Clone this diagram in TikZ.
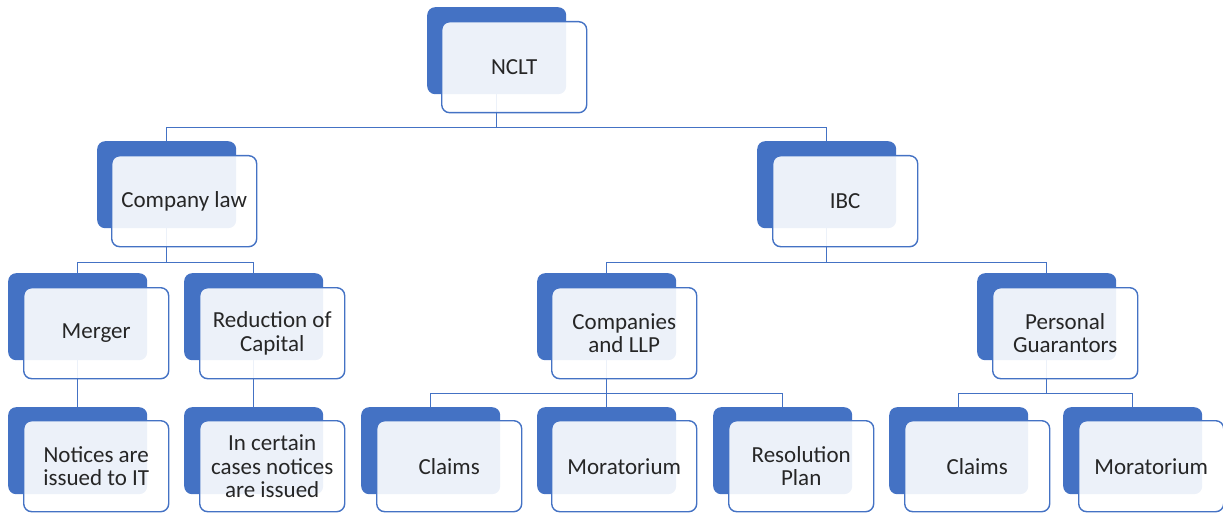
\documentclass[tikz,border=0pt]{standalone}
\usepackage{fontspec}
\setmainfont{Carlito}
\usetikzlibrary{positioning}
\definecolor{acc}{HTML}{4472C4}
\definecolor{ink}{HTML}{262626}

\begin{document}
\begin{tikzpicture}[x=1pt,y=-1pt,
	back/.style={fill=acc,rounded corners=8pt,minimum width=139pt,minimum height=87pt,anchor=north west,inner sep=0pt},
	front/.style={draw=acc,line width=1.4pt,fill=white,fill opacity=.9,text opacity=1,rounded corners=8pt,minimum width=145pt,minimum height=91pt,inner sep=0pt,align=center,text=ink,font=\fontsize{23}{23.5}\selectfont},
	link/.style={draw=acc,line width=1.4pt}]
	\useasboundingbox (0,0) rectangle (1223,513);
	% back boxes
	\node[back] (nclt) at (427,7) {};
	\node[back] (comp) at (97,141) {};
	\node[back] (ibc) at (757,141) {};
	\node[back] (merger) at (8,273) {};
	\node[back] (redcap) at (184,273) {};
	\node[back] (llp) at (537,273) {};
	\node[back] (pg) at (977,273) {};
	\node[back] (notice) at (8,407) {};
	\node[back] (certain) at (184,407) {};
	\node[back] (claimsA) at (361,407) {};
	\node[back] (morA) at (537,407) {};
	\node[back] (resplan) at (713,407) {};
	\node[back] (claimsB) at (889,407) {};
	\node[back] (morB) at (1063,407) {};
	% connectors
	\draw[link] (nclt.south) -- ++(0,33) -| (comp.north);
	\draw[link] (nclt.south) -- ++(0,33) -| (ibc.north);
	\draw[link] (comp.south) -- ++(0,34) -| (merger.north);
	\draw[link] (comp.south) -- ++(0,34) -| (redcap.north);
	\draw[link] (merger.south) -- (notice.north);
	\draw[link] (redcap.south) -- (certain.north);
	\draw[link] (ibc.south) -- ++(0,34) -| (llp.north);
	\draw[link] (ibc.south) -- ++(0,34) -| (pg.north);
	\draw[link] (llp.south) -- ++(0,33) -| (claimsA.north);
	\draw[link] (llp.south) -- ++(0,33) -| (morA.north);
	\draw[link] (llp.south) -- ++(0,33) -| (resplan.north);
	\draw[link] (pg.south) -- ++(0,33) -| (claimsB.north);
	\draw[link] (pg.south) -- ++(0,33) -| (morB.north);
	% front boxes
	\node[front] (nclt-t) [below right=14pt and 14pt of nclt.north west] {NCLT};
	\node[front] (comp-t) [below right=14pt and 14pt of comp.north west] {Company law};
	\node[front] (ibc-t) [below right=14pt and 15pt of ibc.north west] {IBC};
	\node[front] (merger-t) [below right=14pt and 15pt of merger.north west] {Merger};
	\node[front] (redcap-t) [below right=14pt and 15pt of redcap.north west] {Reduction of\\Capital};
	\node[front] (llp-t) [below right=14pt and 14pt of llp.north west] {Companies\\and LLP};
	\node[front] (pg-t) [below right=14pt and 15pt of pg.north west] {Personal\\Guarantors};
	\node[front] (notice-t) [below right=13pt and 15pt of notice.north west] {Notices are\\issued to IT};
	\node[front] (certain-t) [below right=13pt and 15pt of certain.north west] {In certain\\cases notices\\are issued};
	\node[front] (claimsA-t) [below right=13pt and 15pt of claimsA.north west] {Claims};
	\node[front] (morA-t) [below right=13pt and 14pt of morA.north west] {Moratorium};
	\node[front] (resplan-t) [below right=13pt and 15pt of resplan.north west] {Resolution\\Plan};
	\node[front] (claimsB-t) [below right=13pt and 15pt of claimsB.north west] {Claims};
	\node[front] (morB-t) [below right=13pt and 15pt of morB.north west] {Moratorium};
\end{tikzpicture}
\end{document}
